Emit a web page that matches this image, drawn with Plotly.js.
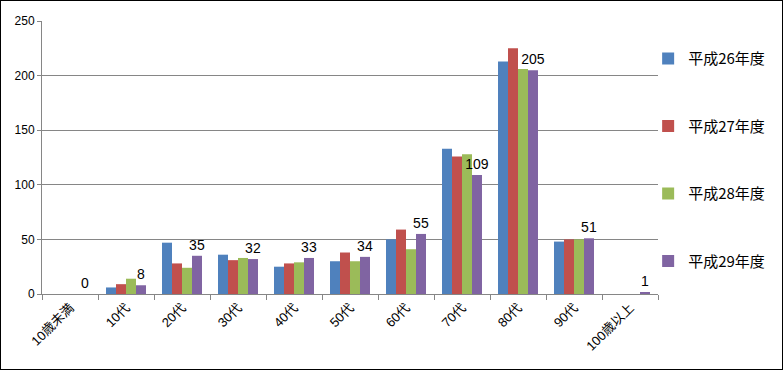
<!DOCTYPE html>
<html><head><meta charset="utf-8">
<script src="https://cdn.plot.ly/plotly-3.0.1.min.js"></script>
<style>html,body{margin:0;padding:0;background:#fff}#chart{width:781px;height:368px;border:1px solid #000}</style>
</head><body><div id="chart"></div>
<script>
const categories = ["10歳未満","10代","20代","30代","40代","50代","60代","70代","80代","90代","100歳以上"];
const seriesNames = ["平成26年度","平成27年度","平成28年度","平成29年度"];
const h26 = [0, 6, 47, 36, 25, 30, 50, 133, 213, 48, 0];
const h27 = [0, 9, 28, 31, 28, 38, 59, 126, 225, 50, 0];
const h28 = [0, 14, 24, 33, 29, 30, 41, 128, 206, 50, 0];
const h29 = [0, 8, 35, 32, 33, 34, 55, 109, 205, 51, 1];
const colors = ["#4F81BD","#C0504D","#9BBB59","#8064A2"];
const allSeries = [h26, h27, h28, h29];
const fontFam = "'Liberation Sans', Arial, 'Noto Sans CJK JP', sans-serif";
const traces = allSeries.map((vals, i) => {
  const t = {
    type: 'bar', x: categories, y: vals, name: seriesNames[i],
    marker: {color: colors[i]}, legendgroup: 'g' + i,
    hoverinfo: 'x+y+name'
  };
  if (i === 3) {
    t.text = vals.map(String);
    t.textposition = 'outside';
    t.textfont = {size: 14, color: '#000', family: fontFam};
    t.cliponaxis = false;
    t.constraintext = 'none';
  }
  return t;
});
const layout = {
  width: 781, height: 368,
  margin: {l: 41, r: 124, t: 20, b: 75},
  paper_bgcolor: '#fff', plot_bgcolor: '#fff',
  barmode: 'group', bargap: 0.286, bargroupgap: 0,
  font: {family: fontFam, color: '#000'},
  xaxis: {
    type: 'category', tickangle: -45, ticks: 'outside', tickson: 'boundaries',
    ticklen: 5, tickcolor: '#868686', showline: true, linecolor: '#868686',
    linewidth: 1, tickfont: {size: 13, family: "'Liberation Sans', Arial, 'Noto Sans CJK JP', sans-serif"},
    showgrid: false
  },
  yaxis: {
    range: [0, 250], dtick: 50, ticks: 'outside', ticklen: 4, tickcolor: '#868686',
    showline: true, linecolor: '#868686', linewidth: 1, gridcolor: '#868686', gridwidth: 1,
    zeroline: false, tickfont: {size: 12}, fixedrange: true
  },
  legend: {
    x: 0.984, xanchor: 'left', y: 0.922, yanchor: 'top',
    bgcolor: 'rgba(0,0,0,0)', tracegroupgap: 45,
    font: {size: 15, family: "'Noto Sans CJK JP', sans-serif"}
  },
  showlegend: true
};
Plotly.newPlot('chart', traces, layout, {displayModeBar: false});
</script></body></html>
